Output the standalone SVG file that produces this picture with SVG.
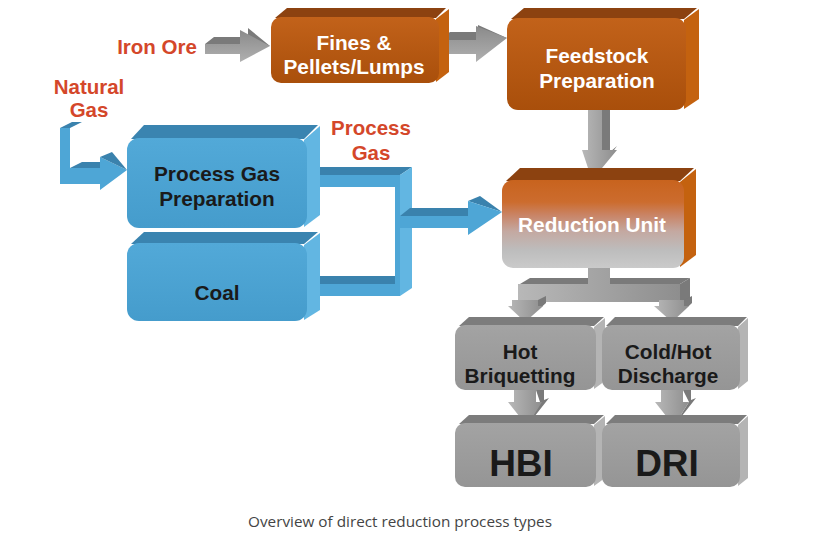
<svg xmlns="http://www.w3.org/2000/svg" width="827" height="545" viewBox="0 0 827 545">
<defs>
<linearGradient id="gOr" x1="0" y1="0" x2="0" y2="1"><stop offset="0" stop-color="#c2621a"/><stop offset="1" stop-color="#a94f0b"/></linearGradient>
<linearGradient id="gRed" x1="0" y1="0" x2="0" y2="1"><stop offset="0" stop-color="#c8631e"/><stop offset="0.25" stop-color="#cc6c2e"/><stop offset="0.4" stop-color="#c98466"/><stop offset="0.58" stop-color="#c4a8a0"/><stop offset="0.8" stop-color="#bdbdbd"/><stop offset="1" stop-color="#cacaca"/></linearGradient>
<linearGradient id="gBl" x1="0" y1="0" x2="0" y2="1"><stop offset="0" stop-color="#52a9d8"/><stop offset="1" stop-color="#459ccc"/></linearGradient>
<linearGradient id="gGr" x1="0" y1="0" x2="0" y2="1"><stop offset="0" stop-color="#a3a3a3"/><stop offset="1" stop-color="#959595"/></linearGradient>
<linearGradient id="gArr" x1="0" y1="0" x2="0" y2="1"><stop offset="0" stop-color="#8a8a8a"/><stop offset="1" stop-color="#b0b0b0"/></linearGradient>
<linearGradient id="gArrV" x1="0" y1="0" x2="1" y2="0"><stop offset="0" stop-color="#b8b8b8"/><stop offset="1" stop-color="#8e8e8e"/></linearGradient>
</defs>
<style>
.or-top{fill:#8c4210}.or-side{fill:#c4620f}.or-front{fill:url(#gOr)}
.bl-top{fill:#3a84b0}.bl-side{fill:#62b6e2}.bl-front{fill:url(#gBl)}
.gr-top{fill:#7c7c7c}.gr-side{fill:#b4b4b4}.gr-front{fill:url(#gGr)}
.t{font-family:"Liberation Sans",Arial,sans-serif;font-weight:bold;font-size:20.8px;text-anchor:middle}
.w{fill:#ffffff}.k{fill:#1a1a1a}
.big{font-size:37px}
.lbl{font-family:"Liberation Sans",Arial,sans-serif;font-weight:bold;font-size:20.5px;fill:#d4472a;text-anchor:middle}
.cap{font-family:"Open Sans","Noto Sans",sans-serif;font-size:15.3px;fill:#444;text-anchor:middle}
.ga{fill:url(#gArr)}.gv{fill:url(#gArrV)}.gd{fill:#7a7a7a}
.ba{fill:#4ea6d6}.bd{fill:#3a82ad}.bs{fill:#62b6e2}
</style>
<rect width="827" height="545" fill="#ffffff"/>

<g id="connectors">
  <!-- Iron Ore arrow -->
  <polygon class="gd" points="205,44 214,37 248,37 248,28 270,46 240,44"/>
  <polygon class="ga" points="205,44 240,44 240,30 270,46 240,62 240,54 205,54"/>
  <!-- Fines to Feedstock -->
  <polygon class="gd" points="440,40 450,32 478,32 478,25 507,38 478,40"/>
  <polygon class="ga" points="440,40 476,40 476,26 507,38 476,62 476,54 440,54"/>
  <!-- Feedstock to Reduction -->
  <polygon class="gd" points="600,110 610,104 610,152 617,146 592,180 600,150"/>
  <polygon class="gv" points="588,110 602,110 602,150 617,150 592,180 582,150 588,150"/>
  <!-- Reduction down and split -->
  <polygon class="gd" points="520,284 530,278 690,278 680,284"/>
  <polygon class="gd" points="680,284 690,278 690,300 680,302"/>
  <polygon class="gv" points="588,266 610,266 610,284 680,284 680,302 518,302 518,284 588,284"/>
  <polygon class="gv" points="512,300 538,300 538,306 543,306 525,322 508,306 512,306"/>
  <polygon class="gd" points="538,300 546,296 546,303 525,322 543,306 538,306"/>
  <polygon class="gv" points="659,300 684,300 684,306 689,306 672,322 654,306 659,306"/>
  <polygon class="gd" points="684,300 692,296 692,303 672,322 689,306 684,306"/>
  <!-- Hot Briquetting to HBI -->
  <polygon class="gd" points="536,390 544,384 544,400 549,398 527,426 540,402"/>
  <polygon class="gv" points="514,390 536,390 536,402 542,402 527,426 508,402 514,402"/>
  <!-- Cold/Hot to DRI -->
  <polygon class="gd" points="683,390 691,384 691,400 696,398 674,426 689,402"/>
  <polygon class="gv" points="661,390 683,390 683,402 689,402 674,426 655,402 661,402"/>
  <!-- Natural Gas arrow -->
  <polygon class="bd" points="60,128 72,122 82,122 70,128"/>
  <polygon class="ba" points="60,128 70,128 70,168 100,168 100,157 127,170 100,190 100,184 60,184"/>
  <polygon class="bd" points="70,168 82,162 100,162 100,168"/>
  <polygon class="bd" points="100,157 112,152 127,170"/>
  <!-- Process gas pipe -->
  <polygon class="bd" points="307,175 318,167 412,167 400,175"/>
  <polygon class="ba" points="307,175 400,175 400,187 307,187"/>
  <polygon class="bs" points="400,175 412,167 412,288 400,296"/>
  <polygon class="ba" points="395,175 400,175 400,296 395,296"/>
  <!-- Coal pipe -->
  <polygon class="bd" points="307,284 318,276 395,276 395,284"/>
  <polygon class="ba" points="307,284 400,284 400,296 307,296"/>
  <!-- To Reduction Unit -->
  <polygon class="bd" points="400,216 410,208 470,208 470,216"/>
  <polygon class="bd" points="468,201 480,196 502,212"/>
  <polygon class="ba" points="400,216 468,216 468,201 502,212 468,235 468,228 400,228"/>
</g>

<g id="fines">
  <path class="or-top" d="M275,18 L287,8 L446,8 L436,18 Z"/>
  <path class="or-side" d="M436,19 L449,9 L449,72 L436,82 Z"/>
  <rect class="or-front" x="271" y="17" width="168" height="66" rx="10"/>
  <text class="t w" x="354" y="50">Fines &amp;</text>
  <text class="t w" x="354" y="74">Pellets/Lumps</text>
</g>

<g id="feedstock">
  <path class="or-top" d="M511,19 L524,8 L697,8 L684,19 Z"/>
  <path class="or-side" d="M684,20 L699,9 L699,99 L684,109 Z"/>
  <rect class="or-front" x="507" y="18" width="179" height="92" rx="11"/>
  <text class="t w" x="597" y="63">Feedstock</text>
  <text class="t w" x="597" y="88">Preparation</text>
</g>

<g id="reduction">
  <path class="or-top" d="M506,181 L520,168 L694,168 L680,181 Z"/>
  <path class="or-side" d="M680,182 L696,169 L696,255 L680,267 Z"/>
  <rect fill="url(#gRed)" x="502" y="180" width="182" height="88" rx="11"/>
  <text class="t w" x="592" y="232">Reduction Unit</text>
</g>

<g id="process-gas-prep">
  <path class="bl-top" d="M131,139 L144,125 L318,125 L304,139 Z"/>
  <path class="bl-side" d="M304,140 L320,126 L320,215 L304,227 Z"/>
  <rect class="bl-front" x="127" y="138" width="180" height="90" rx="12"/>
  <text class="t k" x="217" y="181">Process Gas</text>
  <text class="t k" x="217" y="206">Preparation</text>
</g>

<g id="coal">
  <path class="bl-top" d="M131,244 L144,232 L318,232 L304,244 Z"/>
  <path class="bl-side" d="M304,245 L320,233 L320,310 L304,320 Z"/>
  <rect class="bl-front" x="127" y="243" width="180" height="78" rx="12"/>
  <text class="t k" x="217" y="300">Coal</text>
</g>

<g id="hot-briquetting">
  <path class="gr-top" d="M459,326 L469,317 L604,317 L594,326 Z"/>
  <path class="gr-side" d="M594,327 L605,318 L605,381 L594,389 Z"/>
  <rect class="gr-front" x="455" y="325" width="141" height="65" rx="10"/>
  <text class="t k" x="520" y="359">Hot</text>
  <text class="t k" x="520" y="383">Briquetting</text>
</g>

<g id="cold-hot-discharge">
  <path class="gr-top" d="M606,326 L615,317 L747,317 L738,326 Z"/>
  <path class="gr-side" d="M738,327 L748,318 L748,381 L738,389 Z"/>
  <rect class="gr-front" x="602" y="325" width="138" height="65" rx="10"/>
  <text class="t k" x="668" y="359">Cold/Hot</text>
  <text class="t k" x="668" y="383">Discharge</text>
</g>

<g id="hbi">
  <path class="gr-top" d="M459,424 L469,415 L604,415 L594,424 Z"/>
  <path class="gr-side" d="M594,425 L605,416 L605,478 L594,486 Z"/>
  <rect class="gr-front" x="455" y="423" width="141" height="64" rx="10"/>
  <text class="t k big" x="521" y="476">HBI</text>
</g>

<g id="dri">
  <path class="gr-top" d="M606,424 L615,415 L747,415 L738,424 Z"/>
  <path class="gr-side" d="M738,425 L748,416 L748,478 L738,486 Z"/>
  <rect class="gr-front" x="602" y="423" width="138" height="64" rx="10"/>
  <text class="t k big" x="667" y="476">DRI</text>
</g>

<g id="labels">
  <text class="lbl" x="157" y="54">Iron Ore</text>
  <text class="lbl" x="89" y="94">Natural</text>
  <text class="lbl" x="89" y="117">Gas</text>
  <text class="lbl" x="371" y="135">Process</text>
  <text class="lbl" x="371" y="160">Gas</text>
</g>

<text class="cap" x="400" y="527">Overview of direct reduction process types</text>
</svg>
